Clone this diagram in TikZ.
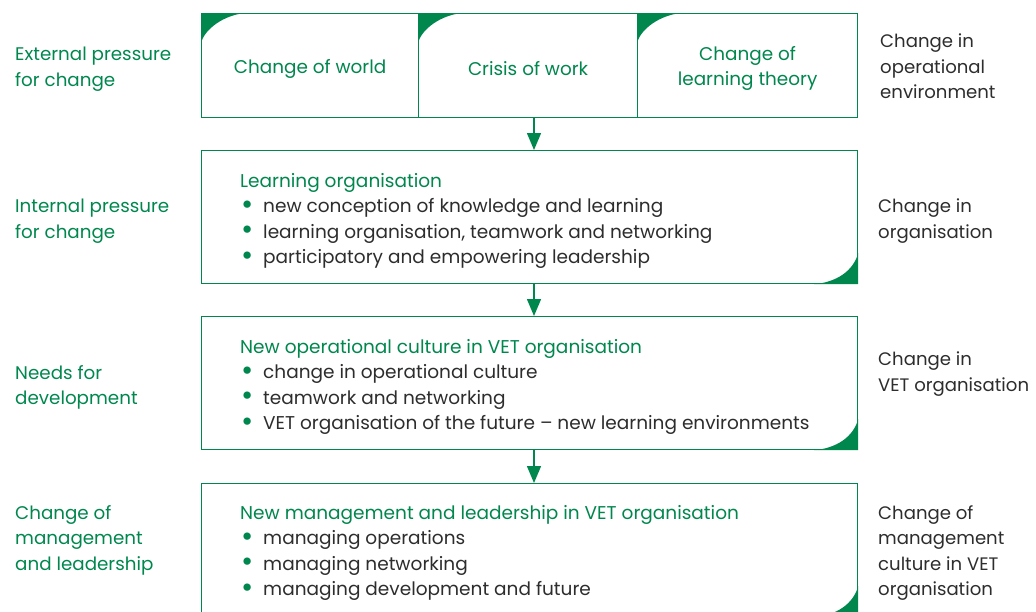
\documentclass[tikz,border=0pt]{standalone}
\usepackage{fontspec}
\setmainfont{Poppins}
\usetikzlibrary{arrows.meta,calc}
\definecolor{vgreen}{RGB}{0,135,78}
\definecolor{vgray}{RGB}{45,45,45}
\newcommand{\bl}{\makebox[23pt][l]{\hspace{1pt}\textcolor{vgreen}{\smash{\raisebox{-0.09em}{\scalebox{1.6}{\textbullet}}}}}}
\begin{document}
\begin{tikzpicture}[x=1pt,y=1pt,
  box/.style={draw=vgreen,line width=1.2pt,fill=white,inner sep=0pt,anchor=north west},
  lefttxt/.style={anchor=north west,align=left,text=vgreen,inner sep=0pt,font=\fontsize{18.3}{25.5}\selectfont},
  righttxt/.style={anchor=north west,align=left,text=vgray,inner sep=0pt,font=\fontsize{18.1}{25.5}\selectfont},
  boxtxt/.style={anchor=north west,align=left,text=vgray,inner sep=0pt,font=\fontsize{18.5}{25.5}\selectfont},
  toptxt/.style={align=center,text=vgreen,inner sep=0pt,font=\fontsize{18.4}{25.5}\selectfont},
  flow/.style={draw=vgreen,line width=1.4pt,-{Triangle[width=14pt,length=17pt]},color=vgreen}]
\useasboundingbox (0,0) rectangle (1036,-611);
\clip (0,0) rectangle (1036,-611);
% top boxes
\node[box,minimum width=217pt,minimum height=104pt] (w1) at (201,-13) {};
\node[box,minimum width=219pt,minimum height=104pt] (w2) at (418,-13) {};
\node[box,minimum width=220pt,minimum height=104pt] (w3) at (637,-13) {};
\foreach \n in {w1,w2,w3}{
  \fill[vgreen] (\n.north west) -- ++(44,0) .. controls +(-20,-2) and +(4,15) .. ($(\n.north west)+(0,-30)$) -- cycle;
}
\node[toptxt] (t1) at ($(w1.center)+(0,-3)$) {Change of world};
\node[toptxt] (t2) at ($(w2.center)+(0,-3)$) {Crisis of work};
\node[toptxt] (t3) at ($(w3.center)+(0,-3)$) {Change of\\learning theory};
% main boxes
\node[box,minimum width=656pt,minimum height=133pt] (b2) at (201,-150) {};
\node[box,minimum width=656pt,minimum height=133pt] (b3) at (201,-316) {};
\node[box,minimum width=656pt,minimum height=133pt] (b4) at (201,-483) {};
\foreach \n in {b2,b3,b4}{
  \fill[vgreen] ($(\n.south east)+(-44,0)$) .. controls +(22,2) and +(-5,-18) .. ($(\n.south east)+(0,31)$) -- (\n.south east) -- cycle;
}
% box contents
\node[boxtxt] (c2) at (240,-173) {\textcolor{vgreen}{Learning organisation}\\
  \bl new conception of knowledge and learning\\
  \bl learning organisation, teamwork and networking\\
  \bl participatory and empowering leadership};
\node[boxtxt] (c3) at (240,-339) {\textcolor{vgreen}{New operational culture in VET organisation}\\
  \bl change in operational culture\\
  \bl teamwork and networking\\
  \bl VET organisation of the future -- new learning environments};
\node[boxtxt] (c4) at (240,-505) {\textcolor{vgreen}{New management and leadership in VET organisation}\\
  \bl managing operations\\
  \bl managing networking\\
  \bl managing development and future};
% arrows
\coordinate (ax) at (534,0);
\draw[flow] (w2.south -| ax) -- (b2.north -| ax);
\draw[flow] (b2.south -| ax) -- (b3.north -| ax);
\draw[flow] (b3.south -| ax) -- (b4.north -| ax);
% left labels
\node[lefttxt] (l1) at (15,-47) {External pressure\\for change};
\node[lefttxt] (l2) at (15,-199) {Internal pressure\\for change};
\node[lefttxt] (l3) at (15,-365) {Needs for\\development};
\node[lefttxt] (l4) at (15,-505) {Change of\\management\\and leadership};
% right labels
\node[righttxt] (r1) at (880,-34) {Change in\\operational\\environment};
\node[righttxt] (r2) at (878,-199) {Change in\\organisation};
\node[righttxt] (r3) at (878,-352) {Change in\\VET organisation};
\node[righttxt] (r4) at (878,-505) {Change of\\management\\culture in VET\\organisation};
\end{tikzpicture}
\end{document}
